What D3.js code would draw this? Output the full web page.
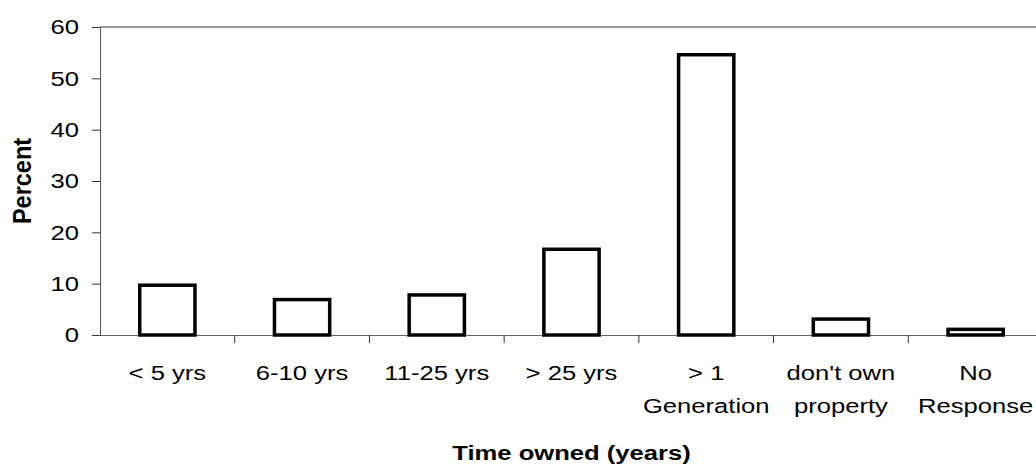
<!DOCTYPE html>
<html>
<head>
<meta charset="utf-8">
<script src="https://cdn.jsdelivr.net/npm/d3@7"></script>
<style>
  body { margin: 0; background: #fff; }
  text { font-family: "Liberation Sans", Arial, sans-serif; fill: #000; }
</style>
</head>
<body>
<div class="barchart"></div>
<script>
// data
const categories = [
  ["< 5 yrs"], ["6-10 yrs"], ["11-25 yrs"], ["> 25 yrs"],
  ["> 1", "Generation"], ["don't own", "property"], ["No", "Response"]
];
const percent = [9.7, 6.9, 7.8, 16.7, 54.6, 3.1, 1.1];
const yTicks = [0, 10, 20, 30, 40, 50, 60];

// margin convention
const margin = { top: 27, right: 0, bottom: 131, left: 100 };
const fullWidth = 1036, fullHeight = 466;
const height = fullHeight - margin.top - margin.bottom;
const plotRight = 1043 - margin.left; // plot runs off the right edge

// the original chart was stretched sideways, so text is widened too
const stretch = 1.22;
const fontSize = "21px";

const svg = d3.select(".barchart")
  .append("svg")
  .attr("width", fullWidth)
  .attr("height", fullHeight)
  .append("g")
  .attr("transform", "translate(" + margin.left + "," + margin.top + ")");

const keys = categories.map(c => c.join(" "));

const x = d3.scaleBand().domain(keys).range([0, plotRight]).padding(0);
const y = d3.scaleLinear().domain([0, 60]).range([height, 0]);

// top border of the plot area
svg.append("line")
  .attr("x1", 0).attr("x2", plotRight)
  .attr("y1", 0).attr("y2", 0)
  .style("stroke", "#999")
  .style("stroke-width", 2);

// y axis
const yAxis = d3.axisLeft(y).tickValues(yTicks).tickSize(8);
const yg = svg.append("g").attr("class", "axis y-axis").call(yAxis);
yg.select(".domain").style("stroke", "#555");
yg.selectAll(".tick line").style("stroke", "#333");
yg.selectAll("text")
  .attr("x", 0)
  .attr("transform", `translate(-21,0) scale(${stretch},1)`)
  .style("font-size", fontSize)
  .style("font-family", "Liberation Sans, Arial, sans-serif")
  .attr("fill", "#000");

// x axis: ticks between categories
const xAxis = d3.axisBottom(x).tickSize(0).tickFormat("");
const xg = svg.append("g")
  .attr("class", "axis x-axis")
  .attr("transform", `translate(0, ${height})`)
  .call(xAxis);
xg.select(".domain").style("stroke", "#666");
xg.selectAll(".sep")
  .data(keys.slice(1))
  .enter()
  .append("line")
  .attr("class", "sep")
  .attr("x1", d => x(d)).attr("x2", d => x(d))
  .attr("y1", 0).attr("y2", 8)
  .style("stroke", "#333");

// category labels (may be two lines)
const lab = svg.append("g").selectAll("text")
  .data(categories)
  .enter()
  .append("text")
  .attr("text-anchor", "middle")
  .attr("transform", d => `translate(${x(d.join(" ")) + x.bandwidth() / 2}, ${380 - margin.top}) scale(${stretch},1)`)
  .style("font-size", fontSize);
lab.selectAll("tspan")
  .data(d => d)
  .enter()
  .append("tspan")
  .attr("x", 0)
  .attr("dy", (d, i) => i === 0 ? 0 : 33)
  .text(d => d);

// bars
const barW = 0.41 * x.bandwidth();
svg.selectAll("rect.bar")
  .data(percent)
  .enter()
  .append("rect")
  .attr("class", "bar")
  .attr("x", (d, i) => x(keys[i]) + (x.bandwidth() - barW) / 2)
  .attr("y", d => y(d))
  .attr("width", barW)
  .attr("height", d => height - y(d))
  .style("fill", "#fff")
  .style("stroke", "#000")
  .style("stroke-width", 3.5);

// axis titles
svg.append("text")
  .attr("transform", `translate(${22 - margin.left}, ${height / 2}) rotate(-90) scale(1.12,${stretch})`)
  .attr("text-anchor", "middle")
  .attr("dy", "0.35em")
  .style("font-size", fontSize)
  .style("font-weight", "bold")
  .text("Percent");

svg.append("text")
  .attr("transform", `translate(${plotRight / 2}, ${460 - margin.top}) scale(${stretch},1)`)
  .attr("text-anchor", "middle")
  .style("font-size", fontSize)
  .style("font-weight", "bold")
  .text("Time owned (years)");
</script>
</body>
</html>
